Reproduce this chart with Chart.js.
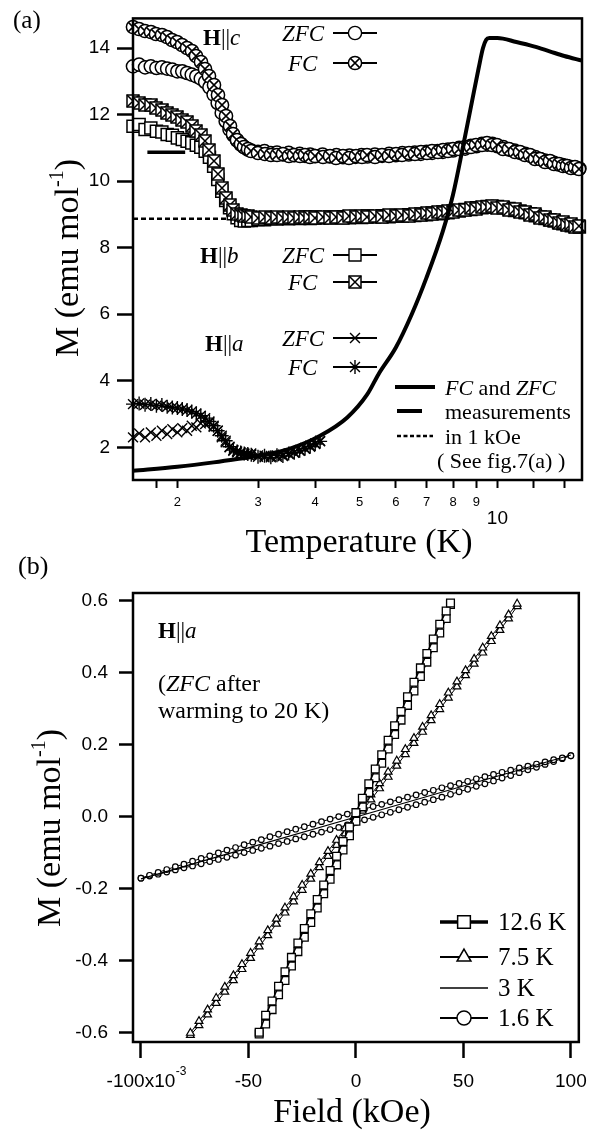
<!DOCTYPE html>
<html>
<head>
<meta charset="utf-8">
<script src="https://cdn.jsdelivr.net/npm/chart.js@4.4.1/dist/chart.umd.min.js"></script>
<style>
  body { margin: 0; background: #fff; }
  #wrap { position: relative; width: 599px; height: 1135px; }
  canvas { position: absolute; left: 0; }
  #chartA { top: 0; }
  #chartB { top: 545px; }
</style>
</head>
<body>
<div id="wrap">
  <canvas id="chartA" width="599" height="565"></canvas>
  <canvas id="chartB" width="599" height="590"></canvas>
</div>
<script>
// ---------- panel (a): M vs T (log axis) ----------
const tempLow = [1.6, 1.65, 1.7, 1.75, 1.8, 1.85, 1.9, 1.95, 2.0, 2.05, 2.1, 2.15, 2.2, 2.25, 2.3, 2.35, 2.4, 2.45, 2.5, 2.55, 2.6, 2.65, 2.7, 2.75, 2.8, 2.85];
const tempHigh = [2.9, 3.0, 3.1, 3.2, 3.3, 3.4, 3.5, 3.6, 3.7, 3.8, 3.9, 4.0, 4.15, 4.3, 4.45, 4.6, 4.75, 4.9, 5.05, 5.2,
  5.4, 5.6, 5.8, 6.0, 6.2, 6.4, 6.6, 6.8, 7.0, 7.2, 7.4, 7.6, 7.8, 8.0, 8.25, 8.5, 8.75, 9.0, 9.25, 9.5, 9.75, 10.0,
  10.3, 10.6, 10.9, 11.2, 11.5, 11.8, 12.1, 12.4, 12.7, 13.0, 13.3, 13.6, 13.9, 14.2, 14.5, 14.8, 15.1];

// H || c
const cZfcLow = [13.45, 13.5, 13.42, 13.45, 13.4, 13.42, 13.38, 13.35, 13.3, 13.3, 13.25, 13.2, 13.15, 13.08, 12.98, 12.82, 12.6, 12.35, 12.05, 11.8, 11.55, 11.38, 11.22, 11.1, 11.02, 10.95];
const cFcLow = [14.62, 14.58, 14.52, 14.48, 14.42, 14.38, 14.32, 14.25, 14.18, 14.1, 14.0, 13.9, 13.75, 13.58, 13.38, 13.15, 12.9, 12.6, 12.3, 11.95, 11.65, 11.42, 11.25, 11.12, 11.03, 10.97];
const cZfcHigh = [10.92, 10.88, 10.9, 10.84, 10.86, 10.8, 10.85, 10.78, 10.82, 10.76, 10.8, 10.75,
  10.8, 10.74, 10.78, 10.72, 10.77, 10.73, 10.78, 10.74,
  10.8, 10.76, 10.82, 10.78, 10.84, 10.8, 10.86, 10.82, 10.88, 10.85, 10.9, 10.88, 10.95, 10.92,
  11.0, 10.98, 11.06, 11.05, 11.12, 11.1, 11.12, 11.05,
  11.02, 10.95, 10.92, 10.85, 10.82, 10.76, 10.72, 10.66, 10.62, 10.58, 10.55, 10.5, 10.48, 10.45, 10.42, 10.4, 10.38];
const cFcHigh = [10.9, 10.85, 10.82, 10.8, 10.78, 10.82, 10.77, 10.8, 10.75, 10.78, 10.73, 10.77,
  10.72, 10.76, 10.7, 10.75, 10.7, 10.76, 10.72, 10.78,
  10.74, 10.8, 10.76, 10.82, 10.78, 10.85, 10.82, 10.88, 10.84, 10.9, 10.87, 10.94, 10.9, 10.98,
  10.96, 11.04, 11.02, 11.1, 11.08, 11.14, 11.08, 11.08,
  10.98, 10.98, 10.88, 10.88, 10.78, 10.78, 10.68, 10.68, 10.58, 10.6, 10.52, 10.52, 10.46, 10.46, 10.4, 10.42, 10.36];

// H || b
const bZfcLow = [11.65, 11.7, 11.55, 11.6, 11.5, 11.48, 11.4, 11.38, 11.3, 11.25, 11.2, 11.15, 11.08, 11.02, 10.9, 10.72, 10.45, 10.05, 9.7, 9.42, 9.2, 9.02, 8.9, 8.82, 8.8, 8.82];
const bFcLow = [12.4, 12.35, 12.3, 12.28, 12.2, 12.15, 12.05, 12.0, 11.92, 11.85, 11.78, 11.65, 11.52, 11.38, 11.2, 10.95, 10.6, 10.2, 9.8, 9.5, 9.28, 9.12, 9.02, 8.98, 8.95, 8.95];
const bZfcHigh = [8.82, 8.85, 8.84, 8.88, 8.86, 8.9, 8.87, 8.9, 8.88, 8.92, 8.88, 8.92,
  8.89, 8.92, 8.9, 8.93, 8.9, 8.94, 8.91, 8.95,
  8.92, 8.96, 8.93, 8.97, 8.95, 8.99, 8.97, 9.01, 8.99, 9.04, 9.02, 9.07, 9.05, 9.1,
  9.1, 9.15, 9.15, 9.2, 9.2, 9.24, 9.22, 9.24,
  9.2, 9.18, 9.12, 9.1, 9.05, 9.02, 8.96, 8.92, 8.88, 8.84, 8.8, 8.76, 8.72, 8.7, 8.66, 8.64, 8.62];
const bFcHigh = [8.92, 8.9, 8.93, 8.9, 8.92, 8.89, 8.92, 8.88, 8.91, 8.88, 8.92, 8.89,
  8.92, 8.88, 8.93, 8.9, 8.94, 8.91, 8.95, 8.92,
  8.96, 8.93, 8.97, 8.95, 8.99, 8.96, 9.0, 8.98, 9.03, 9.01, 9.06, 9.04, 9.09, 9.07,
  9.13, 9.12, 9.18, 9.17, 9.23, 9.21, 9.25, 9.2,
  9.22, 9.14, 9.15, 9.06, 9.08, 8.98, 9.0, 8.9, 8.92, 8.82, 8.84, 8.74, 8.76, 8.68, 8.7, 8.62, 8.64];

// H || a
const aZfcLow = [2.3, 2.42, 2.3, 2.45, 2.35, 2.5, 2.4, 2.55, 2.45, 2.58, 2.5, 2.65, 2.6, 2.72, 2.7, 2.75, 2.62, 2.5, 2.3, 2.15, 2.0, 1.9, 1.85, 1.82, 1.8, 1.78];
const aFcLow = [3.3, 3.32, 3.28, 3.3, 3.25, 3.27, 3.22, 3.2, 3.18, 3.15, 3.12, 3.08, 3.02, 2.95, 2.88, 2.78, 2.65, 2.5, 2.35, 2.2, 2.02, 1.92, 1.88, 1.85, 1.82, 1.8];
const aTempHigh = [2.9, 3.0, 3.1, 3.2, 3.3, 3.4, 3.5, 3.6, 3.7, 3.8, 3.9, 4.0, 4.1];
const aZfcHigh = [1.82, 1.76, 1.7, 1.74, 1.72, 1.78, 1.8, 1.86, 1.92, 1.98, 2.05, 2.12, 2.2];
const aFcHigh = [1.78, 1.72, 1.75, 1.7, 1.76, 1.74, 1.82, 1.84, 1.9, 1.96, 2.02, 2.1, 2.18];

// 1 kOe measurements (lines)
const curveTemp = [1.6, 2.0, 2.4, 2.7, 3.0, 3.5, 4.1, 4.7, 5.2, 5.5, 6.0, 6.5, 7.0, 7.6, 8.0, 8.4, 8.8, 9.1, 9.3, 9.45, 9.6, 10.0, 11.0, 12.0, 13.0, 14.0, 15.3];
const curveM = [1.3, 1.42, 1.55, 1.65, 1.75, 1.95, 2.35, 2.9, 3.6, 4.2, 5.0, 6.0, 7.1, 8.5, 9.6, 11.0, 12.4, 13.4, 14.0, 14.25, 14.3, 14.3, 14.18, 14.05, 13.9, 13.76, 13.62];
const dashTemp = [1.72, 2.08];
const dashM = [10.87, 10.87];
const dotTemp = [1.6, 2.75];
const dotM = [8.87, 8.87];

const tempTicks = [1.8, 2, 3, 4, 5, 6, 7, 8, 9, 10, 12, 14];
const tempTickLabels = ['', '2', '3', '4', '5', '6', '7', '8', '9', '10', '', ''];
const mTicks = [2, 4, 6, 8, 10, 12, 14];

// ---------- panel (b): M vs H at 1.6-12.6 K ----------
const fieldSq = [-45, -42, -39, -36, -33, -30, -27, -24, -21, -18, -15, -12, -9, -6, -3, 0, 3, 6, 9, 12, 15, 18, 21, 24, 27, 30, 33, 36, 39, 42, 44];
const sqUp = [-0.598, -0.551, -0.511, -0.470, -0.430, -0.390, -0.350, -0.310, -0.269, -0.229, -0.189, -0.149, -0.109, -0.068, -0.028, 0.012, 0.052, 0.092, 0.133, 0.173, 0.213, 0.253, 0.293, 0.334, 0.374, 0.414, 0.454, 0.494, 0.535, 0.572, 0.594];
const sqDown = [-0.603, -0.575, -0.535, -0.494, -0.454, -0.414, -0.374, -0.334, -0.293, -0.253, -0.213, -0.173, -0.133, -0.092, -0.052, -0.012, 0.028, 0.068, 0.109, 0.149, 0.189, 0.229, 0.269, 0.310, 0.350, 0.390, 0.430, 0.470, 0.511, 0.551, 0.590];

const fieldTri = [-77, -73, -69, -65, -61, -57, -53, -49, -45, -41, -37, -33, -29, -25, -21, -17, -13, -9, -5, -1, 3, 7, 11, 15, 19, 23, 27, 31, 35, 39, 43, 47, 51, 55, 59, 63, 67, 71, 75];
const triUp = [-0.600, -0.567, -0.535, -0.503, -0.472, -0.440, -0.409, -0.378, -0.346, -0.315, -0.283, -0.252, -0.221, -0.189, -0.158, -0.126, -0.095, -0.064, -0.032, -0.001, 0.031, 0.062, 0.093, 0.125, 0.156, 0.188, 0.219, 0.250, 0.282, 0.313, 0.345, 0.376, 0.407, 0.439, 0.470, 0.502, 0.532, 0.562, 0.592];
const triDown = [-0.606, -0.579, -0.549, -0.517, -0.486, -0.454, -0.423, -0.392, -0.360, -0.329, -0.297, -0.266, -0.235, -0.203, -0.172, -0.140, -0.109, -0.078, -0.046, -0.015, 0.017, 0.048, 0.079, 0.111, 0.142, 0.174, 0.205, 0.236, 0.268, 0.299, 0.331, 0.362, 0.393, 0.425, 0.456, 0.488, 0.519, 0.551, 0.585];

const field3K = [-100, -50, 0, 50, 100];
const m3K = [-0.172, -0.086, 0, 0.086, 0.172];

const fieldCirc = [-100, -96, -92, -88, -84, -80, -76, -72, -68, -64, -60, -56, -52, -48, -44, -40, -36, -32, -28, -24, -20, -16, -12, -8, -4, 0,
  4, 8, 12, 16, 20, 24, 28, 32, 36, 40, 44, 48, 52, 56, 60, 64, 68, 72, 76, 80, 84, 88, 92, 96, 100];
const circUp = [-0.170, -0.162, -0.154, -0.146, -0.138, -0.131, -0.123, -0.115, -0.108, -0.100, -0.092, -0.085, -0.077, -0.070, -0.063, -0.055, -0.048, -0.041, -0.034, -0.027, -0.020, -0.013, -0.006, 0.001, 0.008, 0.015,
  0.022, 0.029, 0.035, 0.042, 0.048, 0.055, 0.061, 0.068, 0.074, 0.081, 0.087, 0.093, 0.099, 0.106, 0.112, 0.118, 0.124, 0.130, 0.136, 0.141, 0.147, 0.153, 0.159, 0.164, 0.170];
const circDown = [-0.170, -0.164, -0.159, -0.153, -0.147, -0.141, -0.136, -0.130, -0.124, -0.118, -0.112, -0.106, -0.099, -0.093, -0.087, -0.081, -0.074, -0.068, -0.061, -0.055, -0.048, -0.042, -0.035, -0.029, -0.022, -0.015,
  -0.008, -0.001, 0.006, 0.013, 0.020, 0.027, 0.034, 0.041, 0.048, 0.055, 0.063, 0.070, 0.077, 0.085, 0.092, 0.100, 0.108, 0.115, 0.123, 0.131, 0.138, 0.146, 0.154, 0.162, 0.170];

const fieldTicks = [-100, -50, 0, 50, 100];
const fieldTickLabels = ['-100x10', '-50', '0', '50', '100'];
const mbTicks = [-0.6, -0.4, -0.2, 0, 0.2, 0.4, 0.6];
const mbTickLabels = ['-0.6', '-0.4', '-0.2', '0.0', '0.2', '0.4', '0.6'];

// ---------- helpers ----------
const SERIF = "'Liberation Serif', 'Times New Roman', serif";
const SANS = "'Liberation Sans', Arial, sans-serif";
Chart.defaults.font.family = SANS;
Chart.defaults.color = '#000';

const pts = (xs, ys) => xs.map((x, i) => ({ x: x, y: ys[i] }));

// marker with an x inside (circle or square), drawn once to a small canvas
function markCanvas(kind) {
  const c = document.createElement('canvas');
  c.width = 16; c.height = 16;
  const g = c.getContext('2d');
  g.lineWidth = 1.5; g.strokeStyle = '#000'; g.fillStyle = '#fff';
  g.beginPath();
  if (kind === 'circle') g.arc(8, 8, 6.6, 0, Math.PI * 2);
  else g.rect(2, 2, 12, 12);
  g.fill(); g.stroke();
  const d = kind === 'circle' ? 4.6 : 6;
  g.beginPath();
  g.moveTo(8 - d, 8 - d); g.lineTo(8 + d, 8 + d);
  g.moveTo(8 + d, 8 - d); g.lineTo(8 - d, 8 + d);
  g.stroke();
  return c;
}
const circleX = markCanvas('circle');
const squareX = markCanvas('square');

function rich(ctx, parts, x, y) {
  let cx = x;
  parts.forEach(p => { ctx.font = p[1]; ctx.fillText(p[0], cx, y); cx += ctx.measureText(p[0]).width; });
  return cx;
}

function yTitle(ctx, cx, cy) {
  const big = '34px ' + SERIF, small = '20px ' + SERIF;
  ctx.save();
  ctx.translate(cx, cy);
  ctx.rotate(-Math.PI / 2);
  ctx.textAlign = 'left';
  ctx.font = big; const w1 = ctx.measureText('M (emu mol').width; const w3 = ctx.measureText(')').width;
  ctx.font = small; const w2 = ctx.measureText('-1').width;
  let x = -(w1 + w2 + w3) / 2;
  ctx.font = big; ctx.fillText('M (emu mol', x, 0); x += w1;
  ctx.font = small; ctx.fillText('-1', x, -15); x += w2;
  ctx.font = big; ctx.fillText(')', x, 0);
  ctx.restore();
}

function hLabel(ctx, letter, x, y) {
  rich(ctx, [['H', 'bold 23px ' + SERIF], ['||', '23px ' + SERIF], [letter, 'italic 23px ' + SERIF]], x, y);
}

function legendLine(ctx, x1, x2, y, lw, dash) {
  ctx.save();
  ctx.lineWidth = lw;
  ctx.setLineDash(dash || []);
  ctx.beginPath(); ctx.moveTo(x1, y); ctx.lineTo(x2, y); ctx.stroke();
  ctx.restore();
}

function legendPoint(ctx, style, radius, x, y, bw) {
  ctx.save();
  ctx.fillStyle = '#fff'; ctx.strokeStyle = '#000'; ctx.lineWidth = bw;
  Chart.helpers.drawPoint(ctx, { pointStyle: style, radius: radius, rotation: 0, borderWidth: bw }, x, y);
  ctx.restore();
}

const frame = {
  id: 'frame',
  beforeDatasetsDraw(chart) { chart.ctx.imageSmoothingEnabled = false; },
  afterDatasetsDraw(chart) { chart.ctx.imageSmoothingEnabled = true; },
  afterDraw(chart) {
    const { ctx, chartArea: a } = chart;
    ctx.save();
    ctx.lineWidth = 2.5; ctx.strokeStyle = '#000';
    ctx.strokeRect(a.left, a.top, a.right - a.left, a.bottom - a.top);
    ctx.restore();
  }
};

const textA = {
  id: 'textA',
  afterDraw(chart) {
    const ctx = chart.ctx;
    ctx.save();
    ctx.fillStyle = '#000'; ctx.strokeStyle = '#000';
    ctx.textBaseline = 'alphabetic'; ctx.textAlign = 'left';
    ctx.font = '25px ' + SERIF; ctx.fillText('(a)', 13, 28);
    ctx.textAlign = 'center'; ctx.font = '34px ' + SERIF;
    ctx.fillText('Temperature (K)', 359, 552);
    yTitle(ctx, 78, 258);
    ctx.textAlign = 'left';

    const rows = [
      ['c', 203, 45, [['ZFC', 282, 33, 'circle', 6.6], ['FC', 288, 63, circleX, 0]]],
      ['b', 200, 263, [['ZFC', 282, 255, 'rect', 8.5], ['FC', 288, 282, squareX, 0]]],
      ['a', 205, 351, [['ZFC', 282, 338, 'crossRot', 7], ['FC', 288, 367, 'star', 7]]]
    ];
    rows.forEach(r => {
      hLabel(ctx, r[0], r[1], r[2]);
      r[3].forEach(m => {
        ctx.font = 'italic 23px ' + SERIF;
        ctx.fillText(m[0], m[1], m[2] + 8);
        legendLine(ctx, 333, 377, m[2], 1.8);
        legendPoint(ctx, m[3], m[4], 355, m[2], 1.4);
      });
    });

    legendLine(ctx, 395, 435, 387, 4);
    rich(ctx, [['FC', 'italic 22px ' + SERIF], [' and ', '22px ' + SERIF], ['ZFC', 'italic 22px ' + SERIF]], 445, 395);
    legendLine(ctx, 397, 422, 411, 4);
    ctx.font = '22px ' + SERIF;
    ctx.fillText('measurements', 445, 419);
    legendLine(ctx, 397, 433, 436, 2.5, [4, 2.5]);
    ctx.fillText('in 1 kOe', 445, 444);
    ctx.fillText('( See fig.7(a) )', 437, 468);
    ctx.restore();
  }
};

const textB = {
  id: 'textB',
  afterDraw(chart) {
    const ctx = chart.ctx;
    ctx.save();
    ctx.fillStyle = '#000'; ctx.strokeStyle = '#000';
    ctx.textBaseline = 'alphabetic'; ctx.textAlign = 'left';
    ctx.font = '26px ' + SERIF; ctx.fillText('(b)', 18, 29);
    hLabel(ctx, 'a', 158, 93);
    rich(ctx, [['(', '24px ' + SERIF], ['ZFC', 'italic 24px ' + SERIF], [' after', '24px ' + SERIF]], 158, 146);
    ctx.font = '24px ' + SERIF; ctx.fillText('warming to 20 K)', 158, 173);

    ctx.textAlign = 'center'; ctx.font = '34px ' + SERIF;
    ctx.fillText('Field (kOe)', 352, 577);
    yTitle(ctx, 60, 283);

    // exponent of the first tick label
    const xs = chart.scales.x;
    ctx.font = '19px ' + SANS;
    const w = ctx.measureText(fieldTickLabels[0]).width;
    ctx.textAlign = 'left'; ctx.font = '12px ' + SANS;
    ctx.fillText('-3', xs.getPixelForValue(fieldTicks[0]) + w / 2 + 0.5, chart.chartArea.bottom + 33);

    const leg = [
      ['12.6 K', 377, 3.5, 'rect', 9],
      ['7.5 K', 412, 2, 'triangle', 8],
      ['3 K', 443, 1.5, null, 0],
      ['1.6 K', 473, 2, 'circle', 7]
    ];
    leg.forEach(l => {
      legendLine(ctx, 440, 488, l[1], l[2]);
      if (l[3]) legendPoint(ctx, l[3], l[4], 464, l[1], 1.5);
      ctx.fillStyle = '#000'; ctx.font = '25px ' + SERIF;
      ctx.fillText(l[0], 498, l[1] + 8);
    });
    ctx.restore();
  }
};

const markerSet = (data, style, radius, bw) => ({
  data: data, showLine: false, clip: false,
  pointStyle: style, pointRadius: radius, pointBorderWidth: bw,
  pointBackgroundColor: '#fff', pointBorderColor: '#000'
});

// ---------- chart (a) ----------
new Chart(document.getElementById('chartA'), {
  type: 'scatter',
  data: {
    datasets: [
      { data: pts(curveTemp, curveM), showLine: true, borderColor: '#000', borderWidth: 4, pointRadius: 0, cubicInterpolationMode: 'monotone' },
      markerSet(pts(tempLow.concat(aTempHigh), aFcLow.concat(aFcHigh)), 'star', 7, 1.4),
      markerSet(pts(tempLow.concat(aTempHigh), aZfcLow.concat(aZfcHigh)), 'crossRot', 7, 1.4),
      markerSet(pts(tempLow.concat(tempHigh), cFcLow.concat(cFcHigh)), circleX, 6.6, 1.5),
      markerSet(pts(tempLow.concat(tempHigh), cZfcLow.concat(cZfcHigh)), 'circle', 6.6, 1.5),
      markerSet(pts(tempLow.concat(tempHigh), bFcLow.concat(bFcHigh)), squareX, 6, 1.5),
      markerSet(pts(tempLow.concat(tempHigh), bZfcLow.concat(bZfcHigh)), 'rect', 8.5, 1.5),
      { data: pts(dashTemp, dashM), showLine: true, borderColor: '#000', borderWidth: 3.5, pointRadius: 0 },
      { data: pts(dotTemp, dotM), showLine: true, borderColor: '#000', borderWidth: 2.5, borderDash: [5, 3], pointRadius: 0 }
    ]
  },
  options: {
    responsive: false, animation: false, events: [],
    layout: { padding: { left: 0, top: 13, right: 17, bottom: 0 } },
    plugins: { legend: { display: false }, tooltip: { enabled: false } },
    scales: {
      x: {
        type: 'logarithmic', min: 1.6, max: 15.3,
        afterFit: s => { s.height = 85; },
        afterBuildTicks: s => { s.ticks = tempTicks.map(v => ({ value: v })); },
        border: { display: false },
        grid: { drawOnChartArea: false, tickLength: 8, tickWidth: 2, tickColor: '#000' },
        ticks: {
          autoSkip: false, maxRotation: 0, minRotation: 0, padding: 7.5, color: '#000',
          font: c => (c.tick && c.tick.value === 10) ? { family: SANS, size: 19, lineHeight: 0.8 } : { family: SANS, size: 13, lineHeight: 1 },
          callback: (v, i) => tempTickLabels[i] === '10' ? ['', '10'] : tempTickLabels[i]
        }
      },
      y: {
        min: 1.02, max: 14.89,
        afterFit: s => { s.width = 133; },
        afterBuildTicks: s => { s.ticks = mTicks.map(v => ({ value: v })); },
        border: { display: false },
        grid: { drawOnChartArea: false, tickLength: 16, tickWidth: 2.5, tickColor: '#000' },
        ticks: { padding: 7, color: '#000', font: { family: SANS, size: 19 }, callback: v => String(v) }
      }
    }
  },
  plugins: [frame, textA]
});

// ---------- chart (b) ----------
new Chart(document.getElementById('chartB'), {
  type: 'scatter',
  data: {
    datasets: [
      { data: pts(field3K, m3K), showLine: true, borderColor: '#000', borderWidth: 1.2, pointRadius: 0 },
      Object.assign(markerSet(pts(fieldSq, sqUp), 'rect', 5.5, 1.3), { showLine: true, borderColor: '#000', borderWidth: 1.5 }),
      Object.assign(markerSet(pts(fieldSq, sqDown), 'rect', 5.5, 1.3), { showLine: true, borderColor: '#000', borderWidth: 1.5 }),
      Object.assign(markerSet(pts(fieldTri, triUp), 'triangle', 4.5, 1.2), { showLine: true, borderColor: '#000', borderWidth: 1 }),
      Object.assign(markerSet(pts(fieldTri, triDown), 'triangle', 4.5, 1.2), { showLine: true, borderColor: '#000', borderWidth: 1 }),
      Object.assign(markerSet(pts(fieldCirc, circUp), 'circle', 2.8, 1.2), { showLine: true, borderColor: '#000', borderWidth: 1 }),
      Object.assign(markerSet(pts(fieldCirc, circDown), 'circle', 2.8, 1.2), { showLine: true, borderColor: '#000', borderWidth: 1 })
    ]
  },
  options: {
    responsive: false, animation: false, events: [],
    layout: { padding: { left: 0, top: 48, right: 16, bottom: 0 } },
    plugins: { legend: { display: false }, tooltip: { enabled: false } },
    scales: {
      x: {
        min: -103.7, max: 103.7,
        afterFit: s => { s.height = 93; },
        afterBuildTicks: s => { s.ticks = fieldTicks.map(v => ({ value: v })); },
        border: { display: false },
        grid: { drawOnChartArea: false, tickLength: 16, tickWidth: 2.5, tickColor: '#000' },
        ticks: { autoSkip: false, maxRotation: 0, minRotation: 0, padding: 12, color: '#000', font: { family: SANS, size: 19 },
          callback: (v, i) => fieldTickLabels[i] }
      },
      y: {
        min: -0.625, max: 0.622,
        afterFit: s => { s.width = 133; },
        afterBuildTicks: s => { s.ticks = mbTicks.map(v => ({ value: v })); },
        border: { display: false },
        grid: { drawOnChartArea: false, tickLength: 14, tickWidth: 2.5, tickColor: '#000' },
        ticks: { padding: 11, color: '#000', font: { family: SANS, size: 19 }, callback: (v, i) => mbTickLabels[i] }
      }
    }
  },
  plugins: [frame, textB]
});
</script>
</body>
</html>
